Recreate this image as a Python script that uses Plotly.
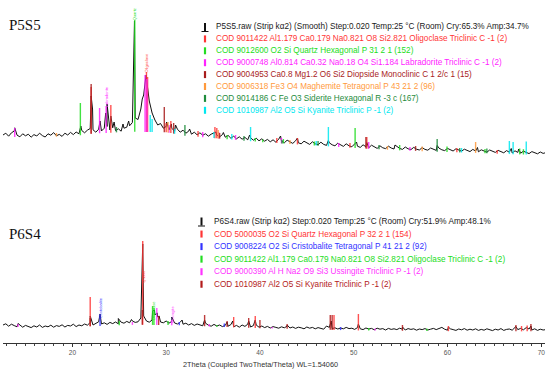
import numpy as np
import plotly.graph_objects as go

# ---------------- data: P5S5 (top) ----------------
scan_start = 12.6
scan_step = 0.3
top_counts = [
    300, 318, 288, 322, 340, 298, 282, 312, 292, 308,
    278, 304, 290, 318, 294, 280, 312, 298, 324, 292,
    306, 286, 318, 300, 326, 304, 330, 312, 345, 322,
    348, 365, 352, 328, 358, 340, 368, 385, 350, 372,
    344, 362, 338, 368, 378, 392, 425, 470, 455, 560,
    700, 860, 640, 520, 450, 400, 415, 368, 385, 350,
    368, 338, 358, 328, 348, 318, 338, 308, 328, 302,
    322, 298, 312, 288, 308, 322, 298, 282, 304, 278,
    296, 268, 288, 262, 282, 258, 276, 252, 272, 248,
    268, 242, 262, 238, 256, 232, 252, 228, 258, 238,
    222, 248, 228, 216, 242, 222, 212, 238, 218, 206,
    232, 212, 202, 228, 206, 196, 222, 202, 192, 218,
    198, 186, 212, 192, 182, 208, 188, 176, 202, 182,
    172, 198, 178, 166, 192, 172, 164, 188, 170, 160,
    184, 166, 156, 180, 162, 154, 176, 158, 150, 174,
    156, 148, 170, 154, 146, 168, 152, 144, 166, 150,
    140, 162, 146, 138, 158, 142, 134, 156, 140, 132,
    152, 136, 128, 150, 134, 126, 146, 132, 122, 144,
    128, 120, 142, 126, 118, 138, 122, 114, 134, 120,
    112, 130, 116, 124,
]
top_peak_tt = [13.85, 20.9, 22.0, 22.15, 22.95, 23.55, 23.7, 24.1, 24.45, 25.4,
               26.0, 26.62, 27.45, 27.85, 28.0, 28.4, 30.05, 30.55, 31.0, 32.5,
               35.3, 36.1, 38.9, 42.2, 44.0, 47.3, 50.3, 51.4, 54.4, 58.9,
               63.2, 66.8, 67.6]
top_peak_i = [372, 390, 690, 560, 440, 520, 610, 490, 430, 410,
              440, 1440, 660, 900, 820, 560, 430, 410, 400, 360,
              330, 325, 300, 290, 270, 245, 230, 225, 200, 195,
              175, 165, 160]
top_bg_tt = [12.6, 20, 22, 26, 30, 32, 35, 40, 45, 50, 55, 60, 65, 70.5]
top_bg_i = [292, 298, 325, 345, 340, 305, 282, 242, 212, 182, 158, 142, 126, 110]

top_phases = [
    ("COD 9011422 Al1.179 Ca0.179 Na0.821 O8 Si2.821 Oligoclase Triclinic C -1 (2)", "#FF3535",
     [22.0, 24.1, 27.9, 28.02, 30.0, 30.5, 33.4, 35.2, 35.4, 41.8, 44.0, 49.6, 51.4, 61.0, 65.3],
     [780, 600, 930, 880, 420, 440, 340, 380, 370, 270, 270, 220, 280, 170, 150]),
    ("COD 9012600 O2 Si Quartz Hexagonal P 31 2 1 (152)", "#22DD22",
     [20.85, 26.65, 36.5, 39.5, 40.3, 42.5, 45.8, 50.15, 54.9, 59.95, 64.0, 67.7, 68.1],
     [620, 1450, 300, 270, 255, 260, 235, 370, 200, 185, 160, 165, 158]),
    ("COD 9000748 Al0.814 Ca0.32 Na0.18 O4 Si1.184 Labradorite Triclinic C -1 (2)", "#FF22FF",
     [13.85, 22.9, 23.6, 27.75, 27.95, 30.3, 33.9, 35.6, 37.4, 42.3, 48.4, 51.6, 56.0],
     [370, 570, 580, 900, 860, 400, 330, 330, 300, 270, 220, 230, 180]),
    ("COD 9004953 Ca0.8 Mg1.2 O6 Si2 Diopside Monoclinic C 1 2/c 1 (15)", "#A81C1C",
     [22.0, 29.8, 30.8, 35.7, 51.3, 56.6],
     [810, 580, 420, 320, 280, 190]),
    ("COD 9006318 Fe3 O4 Maghemite Tetragonal P 43 21 2 (96)", "#FF9A3C",
     [18.3, 30.2, 35.55, 43.2, 53.6, 57.3, 63.0],
     [320, 430, 350, 250, 190, 185, 230]),
    ("COD 9014186 C Fe O3 Siderite Hexagonal R -3 c (167)", "#1E8C3C",
     [24.7, 32.0, 38.3, 42.35, 46.2, 52.7, 58.9, 61.3, 64.2],
     [380, 400, 290, 250, 240, 200, 260, 170, 165]),
    ("COD 1010987 Al2 O5 Si Kyanite Triclinic P -1 (2)", "#00E8F0",
     [28.3, 28.5, 30.9, 35.1, 37.0, 39.0, 46.0, 47.3, 61.5, 66.6, 67.0, 68.4],
     [500, 460, 360, 330, 310, 380, 240, 380, 170, 240, 230, 235]),
]
top_head = "P5S5.raw (Strip kα2) (Smooth) Step:0.020 Temp:25 °C (Room) Cry:65.3% Amp:34.7%"
top_lab_tt = [26.65, 27.9, 23.6]
top_lab_i = [1505, 1020, 680]
top_lab_txt = ["Quartz", "Oligoclase", "Labradorite"]
top_lab_col = ["#22DD22", "#FF4040", "#FF22FF"]

# ---------------- data: P6S4 (bottom) ----------------
bot_counts = [
    150, 162, 138, 158, 144, 132, 152, 128, 146, 136,
    124, 142, 130, 150, 126, 140, 132, 148, 128, 144,
    136, 152, 130, 146, 140, 158, 134, 150, 142, 160,
    148, 175, 150, 168, 182, 160, 172, 156, 176, 164,
    180, 162, 178, 168, 186, 172, 190, 176, 182, 220,
    240, 190, 178, 200, 250, 230, 180, 172, 190, 168,
    186, 170, 160, 178, 158, 168, 150, 164, 146, 160,
    150, 142, 168, 148, 138, 156, 140, 150, 134, 146,
    138, 154, 132, 146, 128, 150, 136, 158, 130, 144,
    150, 128, 140, 124, 136, 120, 134, 126, 118, 132,
    122, 138, 120, 130, 116, 128, 122, 112, 130, 118,
    126, 112, 124, 118, 108, 140, 126, 114, 122, 110,
    120, 112, 126, 114, 118, 106, 124, 112, 104, 120,
    110, 116, 102, 118, 108, 114, 100, 116, 106, 112,
    104, 118, 108, 100, 114, 106, 112, 98, 110, 104,
    114, 100, 108, 116, 104, 112, 126, 108, 98, 112,
    104, 96, 110, 102, 114, 98, 108, 100, 112, 96,
    106, 98, 112, 102, 94, 108, 100, 114, 96, 106,
    110, 98, 120, 104, 116, 102, 124, 110, 100, 112,
    96, 108, 100, 104,
]
bot_peak_tt = [14.2, 21.9, 22.95, 24.9, 26.3, 27.5, 28.55, 28.75, 29.05, 29.25,
               30.6, 31.7, 34.1, 36.5, 37.1, 38.8, 39.5, 42.9, 47.6, 50.5,
               55.2, 60.1, 67.3, 68.9]
bot_peak_i = [165, 240, 260, 215, 205, 960, 290, 300, 270, 240,
              230, 200, 200, 180, 190, 190, 200, 150, 190, 160,
              130, 130, 135, 140]
bot_bg_tt = [12.6, 22, 27, 31, 40, 50, 60, 70.5]
bot_bg_i = [140, 150, 165, 160, 130, 108, 100, 98]

bot_phases = [
    ("COD 5000035 O2 Si Quartz Hexagonal P 32 2 1 (154)", "#FF3535",
     [21.9, 27.5, 37.2, 39.5, 47.9, 50.5, 60.1, 67.9, 68.5],
     [430, 990, 230, 240, 250, 260, 140, 140, 145]),
    ("COD 9008224 O2 Si Cristobalite Tetragonal P 41 21 2 (92)", "#3333FF",
     [22.95, 31.4, 36.2, 48.6],
     [255, 180, 165, 130]),
    ("COD 9011422 Al1.179 Ca0.179 Na0.821 O8 Si2.821 Oligoclase Triclinic C -1 (2)", "#22DD22",
     [25.0, 28.55, 28.7, 30.2, 35.4, 51.6, 57.8],
     [190, 340, 320, 190, 150, 120, 115]),
    ("COD 9000390 Al H Na2 O9 Si3 Ussingite Triclinic P -1 (2)", "#FF33FF",
     [14.2, 26.4, 29.0, 30.6, 34.6, 41.3, 52.3],
     [160, 180, 320, 200, 160, 130, 115]),
    ("COD 1010987 Al2 O5 Si Kyanite Triclinic P -1 (2)", "#B31B1B",
     [21.9, 27.45, 29.2, 34.1, 36.5, 38.8, 40.0, 42.9, 47.5, 47.7, 55.2, 67.3, 68.9],
     [220, 300, 240, 250, 190, 220, 200, 160, 250, 250, 150, 150, 160]),
]
bot_head = "P6S4.raw (Strip kα2) Step:0.020 Temp:25 °C (Room) Cry:51.9% Amp:48.1%"
bot_lab_tt = [27.5, 22.95, 28.62, 30.6]
bot_lab_i = [630, 320, 290, 260]
bot_lab_txt = ["Quartz", "Cristobalite", "Oligoclase", "Ussingite"]
bot_lab_col = ["#FF3535", "#3333FF", "#22DD22", "#FF33FF"]

x_ticks = [20, 30, 40, 50, 60, 70]
x_title = "2Theta (Coupled TwoTheta/Theta) WL=1.54060"

# ---------------- figure ----------------
W, H = 550, 371
ML, MR, MT, MB = 3, 5, 0, 28
PW, PH = W - ML - MR, H - MT - MB


def px(xp):
    return (xp - ML) / PW


def py(yp):
    return 1 - (yp - MT) / PH


fig = go.Figure()


def add_panel(counts, pk_tt, pk_i, bg_tt, bg_i, phases, yaxis):
    tt = scan_start + scan_step * np.arange(len(counts))
    all_tt = np.concatenate([tt, np.array(pk_tt)])
    all_i = np.concatenate([np.array(counts, float), np.array(pk_i, float)])
    order = np.argsort(all_tt, kind="stable")
    fig.add_trace(go.Scatter(x=all_tt[order], y=all_i[order], mode="lines",
                             line=dict(color="#111111", width=1.0),
                             xaxis="x", yaxis=yaxis, hoverinfo="skip"))
    for name, col, pos, top in phases:
        base = np.interp(pos, bg_tt, bg_i)
        xs, ys = [], []
        for p, b, t in zip(pos, base, top):
            xs += [p, p, None]
            ys += [b - 12, t, None]
        fig.add_trace(go.Scatter(x=xs, y=ys, mode="lines",
                                 line=dict(color=col, width=1.4),
                                 opacity=0.85, xaxis="x", yaxis=yaxis,
                                 hoverinfo="skip"))


add_panel(top_counts, top_peak_tt, top_peak_i, top_bg_tt, top_bg_i, top_phases, "y2")
add_panel(bot_counts, bot_peak_tt, bot_peak_i, bot_bg_tt, bot_bg_i, bot_phases, "y")

ann = []
shapes = []
LEG_FONT = "Liberation Sans, Arial, sans-serif"
LEG_SIZE = 8.2


def legend(head, phases, y0, dy, xm, xt):
    rows = [(head, "#1a1a1a")] + [(p[0], p[1]) for p in phases]
    for k, (txt, col) in enumerate(rows):
        yc = y0 + k * dy
        ann.append(dict(x=px(xt), y=py(yc), xref="paper", yref="paper", text=txt,
                        showarrow=False, xanchor="left", yanchor="middle",
                        font=dict(family=LEG_FONT, size=LEG_SIZE, color=col)))
        if k == 0:
            shapes.append(dict(type="line", xref="paper", yref="paper",
                               x0=px(xm), x1=px(xm), y0=py(yc - 4), y1=py(yc + 4),
                               line=dict(color="#111", width=2)))
            shapes.append(dict(type="line", xref="paper", yref="paper",
                               x0=px(xm - 3.5), x1=px(xm + 3.5), y0=py(yc + 4.5), y1=py(yc + 4.5),
                               line=dict(color="#111", width=1)))
        else:
            shapes.append(dict(type="line", xref="paper", yref="paper",
                               x0=px(xm), x1=px(xm), y0=py(yc - 3.5), y1=py(yc + 3.5),
                               line=dict(color=col, width=2.2)))


legend(top_head, top_phases, 27, 11.9, 205, 214)
legend(bot_head, bot_phases, 221.5, 12.55, 201.5, 212)

for tt_, ii, tx, cc in zip(top_lab_tt, top_lab_i, top_lab_txt, top_lab_col):
    ann.append(dict(x=tt_, y=ii, xref="x", yref="y2", text=tx, textangle=-90,
                    showarrow=False, font=dict(family=LEG_FONT, size=4, color=cc)))
for tt_, ii, tx, cc in zip(bot_lab_tt, bot_lab_i, bot_lab_txt, bot_lab_col):
    ann.append(dict(x=tt_, y=ii, xref="x", yref="y", text=tx, textangle=-90,
                    showarrow=False, font=dict(family=LEG_FONT, size=4, color=cc)))

ann.append(dict(x=px(7), y=py(25), xref="paper", yref="paper", text="P5S5", showarrow=False,
                xanchor="left", yanchor="middle",
                font=dict(family="Liberation Serif, Times New Roman, serif", size=15, color="#111")))
ann.append(dict(x=px(7), y=py(234), xref="paper", yref="paper", text="P6S4", showarrow=False,
                xanchor="left", yanchor="middle",
                font=dict(family="Liberation Serif, Times New Roman, serif", size=15, color="#111")))
ann.append(dict(x=px(260.5), y=py(364), xref="paper", yref="paper", text=x_title, showarrow=False,
                xanchor="center", yanchor="middle",
                font=dict(family=LEG_FONT, size=7.3, color="#333")))

fig.update_layout(
    width=W, height=H, margin=dict(l=ML, r=MR, t=MT, b=MB, autoexpand=False),
    paper_bgcolor="white", plot_bgcolor="white", showlegend=False,
    xaxis=dict(range=[12.6, 70.4], anchor="y", showline=True, linecolor="#333", linewidth=1,
               automargin=False,
               ticks="outside", ticklen=3, tickcolor="#333", tickwidth=1,
               tickmode="array", tickvals=x_ticks, ticktext=[str(v) for v in x_ticks],
               tickfont=dict(family=LEG_FONT, size=6.5, color="#555"),
               showgrid=False, zeroline=False,
               minor=dict(dtick=1, tick0=0, ticks="outside", ticklen=2, tickcolor="#444", showgrid=False)),
    yaxis=dict(domain=[0, 1 - 180 / PH], range=[-30, 1600], visible=False, fixedrange=True),
    yaxis2=dict(domain=[1 - 165 / PH, 1], range=[0, 1650], visible=False, anchor="x", fixedrange=True),
    annotations=ann, shapes=shapes,
)

fig.write_html("out.html", config={"displayModeBar": False},
               post_script="document.body.style.margin='0';document.body.style.padding='0';"
                           "document.body.style.overflow='hidden';")
